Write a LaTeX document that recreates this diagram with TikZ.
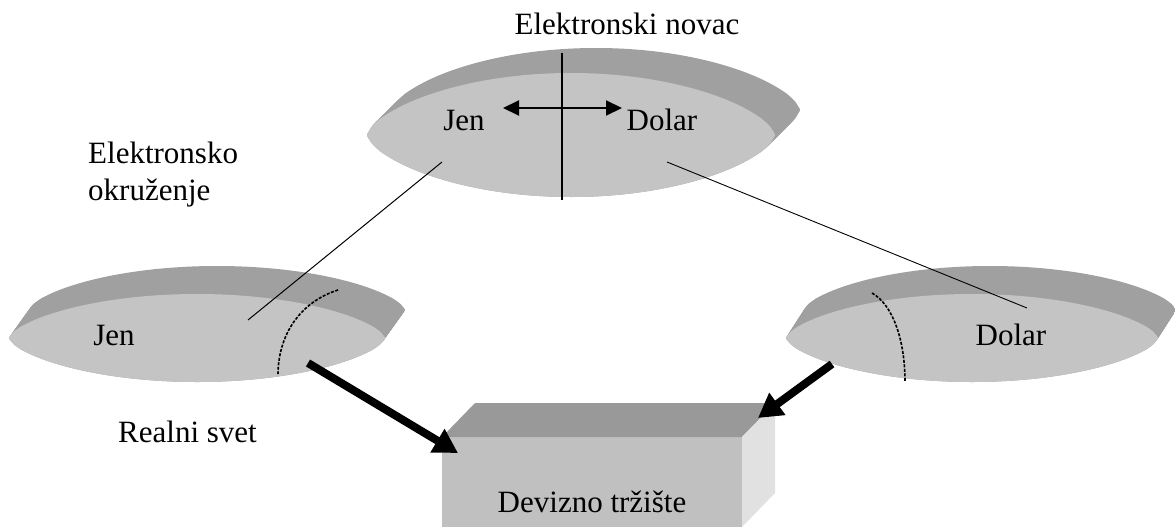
\documentclass[tikz,border=0pt]{standalone}
\usepackage{fontspec}
\setmainfont{Liberation Serif}
\usetikzlibrary{arrows.meta}
\definecolor{facecol}{RGB}{196,196,196}
\definecolor{rimdark}{RGB}{160,160,160}
\definecolor{rimlight}{RGB}{220,220,220}
\definecolor{boxtop}{RGB}{153,153,153}
\definecolor{boxfront}{RGB}{192,192,192}
\definecolor{boxside}{RGB}{225,225,225}
\pgfdeclarehorizontalshading{rim}{100bp}{color(0bp)=(rimdark); color(88bp)=(rimdark); color(100bp)=(rimlight)}
\tikzset{
  lbl/.style={inner sep=0pt, font=\fontsize{31}{37}\selectfont},
  thin line/.style={line width=1pt},
  arc line/.style={line width=1.6pt, dash pattern=on 3pt off 1.5pt},
  big arrow/.style={line width=8pt, -{Triangle[length=24pt,width=26pt]}},
  dbl arrow/.style={line width=2pt, {Triangle[length=16pt,width=15pt]}-{Triangle[length=16pt,width=15pt]}},
}
% flattened disc outline with slightly pointed ends
\newcommand{\lens}[4]{% cx cy rx ry
  plot[domain=-0.9995:0.9995, samples=91] ({#1+#3*\x}, {#2-#4*(1-\x*\x)^0.65})
  -- plot[domain=0.9995:-0.9995, samples=91] ({#1+#3*\x}, {#2+#4*(1-\x*\x)^0.65}) -- cycle
}
\newcommand{\mydisc}[6]{% cx cy rx ry dx dy
  \foreach \k in {0,...,30}{
    \shade[shading=rim, draw=none] \lens{#1+#5*\k/30}{#2+#6*\k/30}{#3}{#4};
  }
  \fill[facecol] \lens{#1}{#2}{#3}{#4};
}
\begin{document}
\begin{tikzpicture}[x=1pt,y=-1pt]
\useasboundingbox (0,0) rectangle (1175,527);
% discs
\mydisc{571}{135}{204}{62}{25}{-25}
\mydisc{197}{338}{188}{44}{20}{-28}
\mydisc{972}{338}{186}{44}{18}{-28}
% box
\fill[boxfront] (442,437) rectangle (742,527);
\fill[boxtop] (442,437) -- (475,403) -- (775,403) -- (742,437) -- cycle;
\fill[boxside] (742,437) -- (775,403) -- (775,493) -- (742,527) -- cycle;
% labels
\node[lbl, anchor=base] (tnovac) at (627,35) {Elektronski novac};
\node[lbl, anchor=base] (tjen) at (464,130) {Jen};
\node[lbl, anchor=base] (tdolar) at (662,130) {Dolar};
\node[lbl, anchor=base west] (okr1) at (88,163) {Elektronsko};
\node[lbl, anchor=base west] (okr2) at (88,200) {okruženje};
\node[lbl, anchor=base] (ljen) at (114,345) {Jen};
\node[lbl, anchor=base] (rdolar) at (1011,345) {Dolar};
\node[lbl, anchor=base west] (real) at (118,442) {Realni svet};
\node[lbl, anchor=base] (dev) at (592,512) {Devizno tržište};
% coordinates
\coordinate (vtop) at (562,53);
\coordinate (vbot) at (562,200);
\coordinate (al) at (503,108);
\coordinate (ar) at (622,108);
\coordinate (tl) at (442,162);
\coordinate (ll) at (248,320);
\coordinate (tr) at (667,162);
\coordinate (rr) at (1027,308);
\coordinate (la1) at (338,290);
\coordinate (la2) at (278,375);
\coordinate (ra1) at (872,293);
\coordinate (ra2) at (905,382);
\coordinate (bl1) at (308,363);
\coordinate (bl2) at (458,453);
\coordinate (br1) at (832,364);
\coordinate (br2) at (758,418);
% connectors
\draw[line width=2pt] (vtop) -- (vbot);
\draw[dbl arrow] (al) -- (ar);
\draw[thin line] (tl) -- (ll);
\draw[line width=0.9pt] (tr) -- (rr);
\draw[arc line] (la1) .. controls (300,302) and (278,335) .. (la2);
\draw[arc line] (ra1) .. controls (893,305) and (905,340) .. (ra2);
\draw[big arrow] (bl1) -- (bl2);
\draw[big arrow] (br1) -- (br2);
\end{tikzpicture}
\end{document}
